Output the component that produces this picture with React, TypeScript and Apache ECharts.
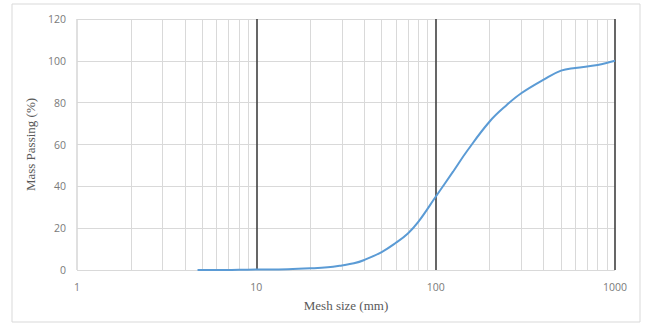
import React, { useEffect, useRef } from "react";
import * as echarts from "echarts";

const meshSize = [4.7, 6, 8, 10, 15, 20, 25, 30, 35, 40, 50, 60, 70, 80, 100, 125, 150, 200, 250, 300, 400, 500, 600, 800, 1000];
const massPassing = [0, 0, 0.1, 0.2, 0.4, 0.8, 1.3, 2.2, 3.2, 4.8, 8.6, 13, 17.5, 23, 35, 47, 57, 71, 79, 84.5, 91, 95.3, 96.6, 98, 100];
const minorGridValues = [2, 3, 4, 5, 6, 7, 8, 9, 20, 30, 40, 50, 60, 70, 80, 90, 200, 300, 400, 500, 600, 700, 800, 900];
const yTicks = { min: 0, max: 120, interval: 20 };
const xRange = { min: 1, max: 1000 };

export default function App() {
  const ref = useRef<HTMLDivElement>(null);
  useEffect(() => {
    const chart = echarts.init(ref.current!, null, { renderer: "svg" });
    const tickFont = { fontFamily: "'Open Sans', 'Liberation Sans', sans-serif", fontSize: 10.5, color: "#7a7a7a" };
    chart.setOption({
      animation: false,
      backgroundColor: "#ffffff",
      graphic: [
        {
          type: "rect",
          shape: { x: 12, y: 4, width: 628, height: 318 },
          style: { fill: "none", stroke: "#d9d9d9", lineWidth: 1 },
          silent: true,
          z: -10,
        },
      ],
      grid: { left: 77, right: 32, top: 19, bottom: 55 },
      xAxis: {
        type: "log",
        logBase: 10,
        min: xRange.min,
        max: xRange.max,
        name: "Mesh size (mm)",
        nameLocation: "middle",
        nameGap: 29,
        nameTextStyle: { fontFamily: "'Liberation Serif', serif", fontSize: 13, color: "#595959" },
        axisLine: { show: false },
        axisTick: { show: false },
        axisLabel: { ...tickFont, margin: 11, formatter: (v: number) => String(Math.round(v)) },
        splitLine: {
          show: true,
          lineStyle: { color: ["#d9d9d9", "#404040", "#404040", "#404040"], width: 1.6 },
        },
      },
      yAxis: {
        type: "value",
        min: yTicks.min,
        max: yTicks.max,
        interval: yTicks.interval,
        name: "Mass Passing (%)",
        nameLocation: "middle",
        nameGap: 33,
        nameRotate: 90,
        nameTextStyle: { fontFamily: "'Liberation Serif', serif", fontSize: 13, color: "#595959" },
        axisLine: { show: false },
        axisTick: { show: false },
        axisLabel: { ...tickFont, margin: 11 },
        splitLine: { show: true, lineStyle: { color: "#d9d9d9", width: 1 } },
      },
      series: [
        {
          type: "line",
          data: meshSize.map((x, i) => [x, massPassing[i]]),
          smooth: 0.4,
          showSymbol: false,
          lineStyle: { color: "#5b9bd5", width: 2 },
          z: 5,
          markLine: {
            silent: true,
            symbol: "none",
            label: { show: false },
            lineStyle: { color: "#d9d9d9", width: 1, type: "solid" },
            z: 1,
            data: minorGridValues.map((v) => ({ xAxis: v })),
          },
        },
      ],
    });
    return () => chart.dispose();
  }, []);
  return <div ref={ref} style={{ position: "absolute", left: 0, top: 0, width: 647, height: 325 }} />;
}
